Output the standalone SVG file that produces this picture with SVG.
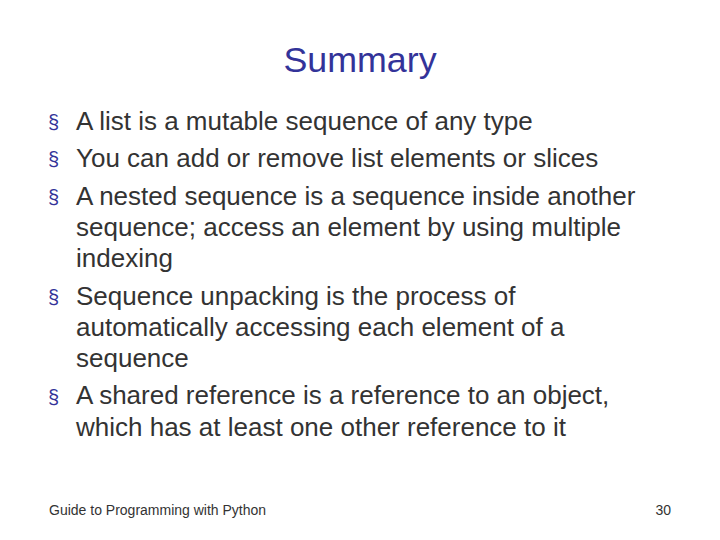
<svg xmlns="http://www.w3.org/2000/svg" width="720" height="540" viewBox="0 0 720 540">
<style>
text{font-family:"Liberation Sans",Arial,sans-serif}
.t{font-size:35.8px;fill:#333399}
.b{font-size:26px;fill:#333333}
.bu{font-size:20px;fill:#333399}
.f{font-size:14px;fill:#333333}
</style>
<rect width="720" height="540" fill="#ffffff"/>
<text class="t" x="360" y="72" text-anchor="middle">Summary</text>
<g class="bu">
<text x="48" y="129">§</text>
<text x="48" y="166">§</text>
<text x="48" y="204">§</text>
<text x="48" y="304">§</text>
<text x="48" y="404">§</text>
</g>
<g class="b">
<text x="76" y="130">A list is a mutable sequence of any type</text>
<text x="76" y="167">You can add or remove list elements or slices</text>
<text x="76" y="205">A nested sequence is a sequence inside another</text>
<text x="76" y="236">sequence; access an element by using multiple</text>
<text x="76" y="267">indexing</text>
<text x="76" y="305">Sequence unpacking is the process of</text>
<text x="76" y="336">automatically accessing each element of a</text>
<text x="76" y="367">sequence</text>
<text x="76" y="404">A shared reference is a reference to an object,</text>
<text x="76" y="436">which has at least one other reference to it</text>
</g>
<text class="f" x="49" y="515">Guide to Programming with Python</text>
<text class="f" x="671" y="515" text-anchor="end">30</text>
</svg>
